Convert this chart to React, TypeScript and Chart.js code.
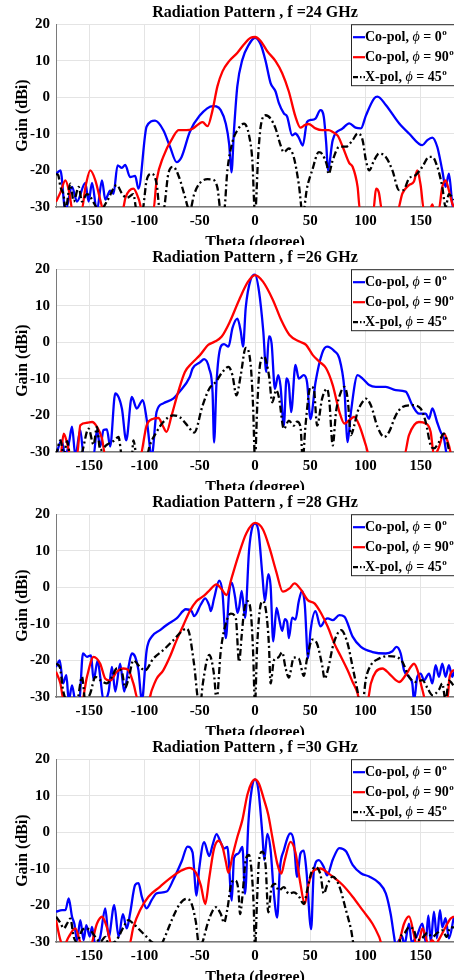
import React, { useEffect, useRef } from 'react';
import { Chart, registerables } from 'chart.js';

Chart.register(...registerables);

const FONT = "'Liberation Serif', 'Times New Roman', serif";

// ---- axis / tick values ----
const X_TICKS = [-150, -100, -50, 0, 50, 100, 150];
const Y_TICKS = [-30, -20, -10, 0, 10, 20];
const X_MIN = -180;
const X_MAX = 180;
const Y_MIN = -30;
const Y_MAX = 20;
const FREQS = [24, 26, 28, 30];

// ---- legend ----
const SERIES_NAMES = ['Co-pol, ', 'Co-pol, ', 'X-pol, '];
const PHI_VALUES = ['0', '90', '45'];
const SERIES_COLORS = ['#0000ff', '#ff0000', '#000000'];

// ---- data: [theta (deg), gain (dBi)] ----
const G24_CO0: number[][] = [[-180,-21],[-176,-20],[-171.5,-31],[-165.5,-24.5],[-161,-28.5],[-153.5,-23.4],[-150.5,-28.5],[-147.4,-23.4],[-143,-31],[-138.4,-22.7],[-135.4,-28],[-131,-25.5],[-128,-26.4],[-124.3,-18.6],[-120.4,-19.3],[-117.4,-18.5],[-113,-21.8],[-108.4,-21.5],[-105.4,-25],[-98,-8],[-90.4,-6.4],[-82.9,-9],[-76.9,-13.5],[-70.9,-17.7],[-66.4,-16.3],[-59,-9.5],[-50,-5],[-38,-2.4],[-35,-2.5],[-31,-3.5],[-26.4,-7.2],[-23.4,-12.7],[-21.3,-20.5],[-19,-9],[-16,3],[-11.4,10.3],[-5.4,14.5],[0,16.3],[5.1,14.5],[9.6,9.9],[14.1,3.9],[18.6,1.6],[21.6,-1.6],[26.1,-4.4],[29.1,-5.3],[33.6,-10.4],[36.6,-9.9],[39.6,-11],[43.2,-13.2],[47.1,-6.7],[50.2,-6.2],[54.7,-5.8],[59.2,-3.5],[62.2,-5.3],[64.5,-13],[66,-20],[70.3,-11.7],[79.3,-8.5],[85.3,-7.1],[91,-8.3],[95.8,-8.5],[100.3,-5],[107.8,-0.3],[110.8,0.2],[118.3,-2.1],[130.3,-7.1],[139.3,-9.9],[151.4,-13.1],[155.9,-11.7],[160.4,-11],[164.9,-13.6],[169.4,-20],[172.4,-24.5],[175.4,-20.9],[178.4,-29],[180,-31]];
const G24_CO90: number[][] = [[-180,-28.6],[-176,-26],[-171.5,-22.7],[-168,-26],[-165,-31],[-157,-31],[-153,-24],[-149,-20],[-144.4,-22.7],[-140,-28],[-137,-31],[-120,-31],[-117,-27.3],[-110,-25],[-105,-28],[-102,-31],[-92,-31],[-89,-22.7],[-83,-16.3],[-74,-10.8],[-69,-9],[-62,-9],[-56,-8.5],[-50.5,-7.2],[-47.4,-6.8],[-42.9,-7.9],[-38.4,-3.5],[-34,3],[-29.4,7.1],[-23.4,9.9],[-15.9,12.2],[-9.9,14.5],[-3.9,16.3],[0,16.5],[5.1,15.4],[11.1,12.6],[18.6,9.9],[24.6,6.6],[30.6,1.6],[36.6,-5.3],[41.1,-8.3],[45,-7.6],[48.6,-7.3],[54.7,-8.5],[60.7,-9],[66.7,-9],[70.3,-9.5],[74.8,-10.5],[79.3,-13.5],[85.3,-18],[88.3,-19],[92.8,-24.5],[95,-31],[107,-31],[109.5,-25],[112,-26],[115,-31],[128.8,-31],[133.3,-26.3],[139.3,-24],[143.8,-23],[146.8,-20],[149.8,-24],[152.9,-31],[158,-31],[160.4,-29.3],[162,-31],[166,-31],[169.4,-24.5],[172.4,-22.7],[175.4,-25.5],[178.4,-29],[180,-30]];
const G24_X45: number[][] = [[-180,-21],[-178,-21.3],[-176,-24.5],[-173,-27],[-171.5,-31],[-167,-23.6],[-164,-28.5],[-159.5,-24.5],[-156.5,-28.5],[-152,-26.5],[-140,-31],[-134,-28.5],[-125,-24],[-120.4,-26.3],[-116,-27.5],[-110,-26.5],[-107,-31],[-102,-31],[-98,-22.7],[-93.4,-20.9],[-89,-23.6],[-86,-31],[-83,-31],[-78.4,-20.9],[-74,-19],[-68.5,-22],[-64,-26.5],[-59,-31],[-55,-26.5],[-50.5,-23.7],[-43,-22.4],[-38.4,-22.5],[-34,-24.7],[-31,-31],[-28,-31],[-25,-20],[-20.4,-12.2],[-15.9,-9],[-9.9,-7.2],[-5.4,-10.4],[-2.4,-17.3],[0,-32],[3,-15.4],[5.1,-8.1],[9.6,-4.9],[14.1,-5.8],[18.6,-8.5],[23.1,-13.1],[26.1,-15],[30.6,-14],[35.1,-16.4],[39.6,-23.7],[43.2,-32],[47.1,-24.7],[51.7,-20],[57.7,-15],[60.7,-15.5],[65.2,-18.8],[66.5,-21],[70.3,-17.2],[76.3,-13.5],[82.3,-13.5],[88.3,-11.7],[92.8,-9.9],[97.3,-11.7],[100.3,-17.2],[103.3,-20],[107.8,-17.2],[112.3,-15.4],[118.3,-16.3],[124.3,-20],[130.3,-25.4],[134,-25.4],[139.3,-22.2],[145.3,-21.3],[151.4,-19],[157.4,-16.3],[160.4,-16.3],[164.9,-19],[169.4,-24.5],[172.4,-30],[175.4,-26.5],[180,-28]];

const G26_CO0: number[][] = [[-180,-31],[-175,-26.8],[-171.5,-31],[-168,-27],[-165.5,-23.1],[-162.5,-31],[-158,-24],[-155,-31],[-146,-31],[-143,-24],[-140,-28.5],[-137,-24],[-134,-23.8],[-131,-28.5],[-126.4,-14],[-120.4,-18.1],[-116.5,-26.8],[-111.4,-14.9],[-107,-18.1],[-101.5,-15.8],[-98,-21],[-93.4,-31],[-89,-19],[-83,-16.7],[-74,-15.4],[-68.5,-13.6],[-59,-9.5],[-56.5,-7.2],[-49.8,-5.5],[-46,-4.6],[-41.4,-7.2],[-38.4,-13.6],[-37,-27.4],[-34.8,-11],[-31,-1.2],[-28,-0.5],[-24,-1.2],[-20.4,3.9],[-15.9,6.5],[-12.9,3],[-10.8,-1.2],[-8.4,9.4],[-3.9,17.2],[0,18.5],[3.6,14],[7.5,3],[10.2,-8.1],[12.6,1.6],[15,-0.3],[18,-12.7],[21,-9],[23.1,-12],[26.1,-22.8],[28.5,-9.9],[30.6,-11.5],[32.7,-19.1],[36.6,-6.2],[39.6,-9.9],[44.1,-9],[47.1,-11],[50.2,-21],[54.7,-11],[60.7,-3],[65.2,-1.2],[71.8,-2.4],[76.3,-4.4],[80.8,-12.6],[83.8,-27.3],[86.8,-19],[92.8,-9],[97.3,-9.9],[103.3,-11.7],[109.3,-12.2],[118.3,-12.2],[127.3,-13.1],[136.3,-13.5],[142.3,-17.2],[148.3,-19.5],[154.4,-19.5],[157.4,-20.9],[160.4,-18.1],[164.9,-22],[167.9,-24.5],[170.9,-26.3],[173.9,-31],[180,-31]];
const G26_CO90: number[][] = [[-180,-31],[-176,-31],[-173,-25],[-170,-27.5],[-167,-31],[-161,-31],[-158,-22.7],[-152,-22],[-147.4,-21.8],[-143,-23.1],[-138.4,-26.3],[-135.4,-31],[-104,-31],[-98,-22.7],[-92,-20.9],[-87.4,-20.7],[-83,-23.1],[-80,-24.5],[-75.4,-20],[-69.4,-13.5],[-63.4,-8.1],[-57.4,-5.8],[-49.8,-3.5],[-42.3,-0.7],[-36.3,0.2],[-30.3,1.5],[-22.8,5.6],[-13.8,12],[-6.3,16.6],[0,18.4],[7.2,16.6],[16.2,11.6],[23.7,6.1],[31.2,2],[40.2,0.2],[46.2,-0.7],[52.3,-3.5],[58.3,-5.3],[64.3,-7.1],[70.3,-11.7],[76.3,-19],[80.8,-22.2],[85.3,-21.3],[89.8,-20.4],[94.3,-22.7],[100.3,-28.2],[103.3,-31],[134.8,-31],[139.3,-25.4],[148.3,-21.8],[154.4,-22.2],[158.9,-24.5],[161.9,-31],[166,-29],[170.9,-25],[175.4,-28.2],[178,-31],[180,-31]];
const G26_X45: number[][] = [[-180,-31],[-176,-26.8],[-173,-31],[-170,-27],[-167,-31],[-158,-31],[-150.5,-23.6],[-146,-28],[-143,-23.1],[-140,-29.5],[-134,-28],[-128,-27],[-123.4,-25.9],[-120.4,-31],[-111.4,-31],[-110,-26.8],[-107,-31],[-98,-31],[-95,-28],[-89,-24.5],[-83,-21.8],[-74,-20],[-68,-20.5],[-61,-22.8],[-55,-24.7],[-47.4,-17.3],[-41.4,-12.7],[-35.4,-10.8],[-29.4,-8.1],[-24,-6.7],[-20.4,-9],[-16.8,-14.5],[-12.9,-9],[-8.4,-1.5],[-3.9,-6.2],[-1.8,-17],[0,-32],[2.1,-17],[4.5,-6.2],[8.1,-3.9],[12.6,-9],[15.6,-16.4],[19.2,-13.1],[21.6,-15],[26.1,-23.7],[30.6,-21.4],[35.1,-22.8],[38.1,-21.7],[41.1,-23],[43.2,-32],[45.6,-23],[50.2,-12.2],[53.2,-12.7],[56.2,-22.8],[60.7,-15.4],[65.2,-12.7],[67.3,-16.3],[70.3,-28.2],[73.3,-19],[77.8,-13.5],[80.8,-12.2],[83.8,-15.4],[86.8,-25.4],[89.8,-22.7],[92.8,-19],[97.3,-16.3],[100.3,-15.4],[104.8,-17.2],[110.8,-23.1],[116.8,-25.9],[121.3,-24.5],[127.3,-20],[133.3,-17.7],[142.3,-17.2],[149.8,-18.1],[154.4,-21.8],[158.9,-28.2],[161.9,-29],[166,-27.5],[170.9,-25],[174,-27.5],[177,-31],[180,-31]];

const G28_CO0: number[][] = [[-180,-21.8],[-176.6,-20],[-173.6,-26.3],[-170.6,-24],[-168.5,-31],[-165.5,-26.8],[-162.5,-31],[-159,-31],[-155.6,-18.1],[-152,-19],[-148.3,-18.6],[-146,-25.4],[-142.3,-20],[-140,-24.5],[-137,-31],[-132.4,-28.5],[-129.4,-21.8],[-126.4,-28.5],[-122,-20.9],[-118.3,-28.5],[-114.4,-21.8],[-111.4,-18.1],[-108.4,-19],[-105.4,-22.7],[-102.4,-31],[-98,-17.2],[-93.4,-13.5],[-85.9,-11.7],[-79.9,-10.3],[-70.9,-8.5],[-62.5,-6],[-57.4,-6.5],[-55,-7.9],[-49,-4.7],[-45,-3],[-41.4,-5],[-40,-6.5],[-37,-3],[-32.4,1.8],[-29.4,-1.5],[-26.4,-13.9],[-23.4,-1.5],[-21,1.3],[-18,-2.7],[-15.9,-7],[-14.4,-5.6],[-12,-1],[-9,-8.4],[-5.4,10],[-2.4,16.5],[0,17.4],[3,15.6],[6.6,3.6],[9,-3.8],[12,3.6],[14.1,0.4],[16.5,-14.8],[19.5,-5.6],[21.6,-8.3],[24.6,-11.9],[27,-8.7],[29.1,-9.5],[30.6,-13.9],[33.6,-8.3],[36.6,-8.8],[39.6,-3.8],[42.6,-1],[45,-4.6],[48,-19.4],[50.2,-12],[54.7,-6.5],[59.2,-10.7],[63.7,-8.8],[65.8,-8.5],[70.3,-9],[76.3,-7.6],[80.8,-8],[88.3,-13.5],[95.8,-16.3],[106.3,-17.7],[118.3,-18.1],[124.3,-17.5],[127.9,-16.3],[131.8,-18.1],[134.8,-22.7],[139.3,-24.5],[142.3,-26.3],[143.8,-31],[146.8,-24.5],[149.8,-23.6],[152.9,-25.4],[157.4,-23.6],[160.4,-26.3],[163.4,-21.3],[166.4,-24.5],[169.4,-20.9],[172.4,-24.5],[175.4,-21.3],[178.4,-24.5],[180,-23]];
const G28_CO90: number[][] = [[-180,-23.1],[-176,-26.3],[-173,-31],[-156.6,-31],[-152,-24.5],[-146,-19],[-140,-20.9],[-135.4,-25],[-131,-25.5],[-125,-23.1],[-119,-22.2],[-114.4,-22.7],[-110,-26.3],[-105.4,-31],[-96.4,-31],[-93.4,-28.2],[-89,-25],[-83,-22.7],[-77,-19],[-71,-14.5],[-65,-10.5],[-59,-6.5],[-53,-3.8],[-47,-2.5],[-42.3,-1.2],[-34.8,0.8],[-30.3,-0.5],[-25.8,-2.1],[-21.3,2.4],[-15.3,8.4],[-7.8,14.8],[0,17.6],[7.2,15.8],[13.2,10.7],[19.2,4.3],[25.2,-1.2],[31.2,-0.3],[35.7,1.1],[41.7,-0.7],[47.7,-3.5],[53.8,-4.4],[59.8,-7.1],[65.8,-10.8],[71.8,-15.4],[77.8,-19],[83.8,-22.7],[88.3,-25.9],[92.8,-29],[94.3,-31],[101.8,-31],[104.8,-26.3],[109.3,-23.1],[115.3,-22.2],[121.3,-23.6],[127.3,-25.4],[130.3,-25.9],[136.3,-24],[140.8,-21.8],[143.8,-20.9],[146.8,-22.5],[151.4,-28],[154.4,-31],[173.9,-31],[176,-24.5],[180,-22.5]];
const G28_X45: number[][] = [[-180,-20.9],[-176.6,-21.8],[-173.6,-28.2],[-170,-31],[-161,-31],[-156.5,-24.5],[-153.5,-31],[-149,-29],[-144.4,-24.5],[-140,-25.4],[-134,-26.3],[-129.4,-24.5],[-125,-22.2],[-120.4,-23.1],[-117.4,-27.5],[-114.4,-25],[-110,-20],[-104,-21.8],[-99.4,-22.7],[-92,-19.5],[-83,-17.2],[-74,-14.5],[-65,-11.7],[-62,-11.3],[-59.5,-12.5],[-55,-21.3],[-51,-31],[-49,-31],[-47.5,-27],[-41.4,-18.5],[-37,-24],[-34.8,-31],[-31,-17.5],[-26.4,-9.9],[-21.9,-7.2],[-17.4,-8.4],[-14.4,-20.4],[-12,-13],[-9.9,-6.5],[-6.9,-3.8],[-3.9,-6.5],[-1.8,-17],[0,-32],[1.8,-17],[4.2,-6.5],[7.2,-3.8],[10.2,-7],[12.6,-15.8],[14.1,-26.3],[17.1,-20],[21,-19.2],[24.6,-17.8],[27.6,-22],[30.6,-24.7],[35.1,-19.2],[39.6,-19.5],[44.1,-24.2],[47.1,-19.5],[51.7,-14.3],[56.2,-15.5],[60.7,-21.3],[63,-25],[65.8,-22.7],[71,-15.5],[77.8,-11.7],[83.8,-15.4],[88.3,-21.8],[92.8,-28.5],[94.3,-31],[97.5,-31],[100.3,-25],[104.8,-21.3],[112.3,-19.5],[119.8,-18.8],[127.3,-19],[133.3,-20.4],[139.3,-24.5],[145.3,-25.9],[151.4,-25.4],[155.9,-27.5],[160.4,-29.5],[166.4,-28],[169.4,-26.3],[172.4,-31],[175.4,-25.5],[180,-27]];

const G30_CO0: number[][] = [[-180,-21.7],[-174.5,-21.3],[-171.5,-21.3],[-168.5,-18.1],[-165.5,-23.1],[-163.4,-25],[-161,-29.5],[-158,-24],[-155,-29.5],[-152.6,-25.4],[-149.5,-28.5],[-147.4,-25.9],[-144.4,-31],[-140,-28.6],[-135.4,-20.8],[-132.4,-28.6],[-127.3,-19.9],[-123.4,-28.6],[-119.5,-22.4],[-116,-26.3],[-113,-22.2],[-108.4,-14.4],[-105.4,-13.9],[-102.4,-17.6],[-98,-20.8],[-93.4,-18.5],[-89,-16.7],[-79.9,-16.2],[-73.9,-13],[-66.4,-8],[-61,-3.9],[-56.5,-5.5],[-52.9,-17.3],[-50.5,-10],[-46,-2.7],[-41.4,-6.5],[-38.4,-3.5],[-34.8,-0.5],[-31,-2.8],[-28,-4.4],[-25,-4],[-21,-18.7],[-19,-7],[-15,-5.8],[-11.4,-4],[-9,-16.8],[-6,2.5],[-3,11.7],[0,14.5],[3,11.7],[6.6,-0.3],[8.4,-7.6],[11.1,-0.4],[14.1,-4.8],[17.1,-16.8],[20.1,-23.3],[22.5,-10],[26.1,-4.9],[32.1,-0.3],[35.1,-2.5],[38.1,-12.2],[41.1,-5.8],[44.1,-5],[46.5,-10.5],[50.8,-26.5],[53.2,-10.5],[57.7,-7.6],[62.2,-9.5],[65.2,-11.8],[70.3,-7.5],[76.3,-4.3],[82.3,-5.2],[88.3,-8.9],[95.8,-11.2],[103.3,-12.1],[112.3,-13.9],[118.3,-16.7],[122.8,-22.5],[125.8,-28.5],[127.3,-31],[130.3,-29.5],[133.3,-28.6],[135,-31],[139.3,-25],[141.7,-30],[146,-28.6],[151.4,-25],[154.4,-30],[156.8,-22.7],[159,-30],[161.9,-21.7],[164.5,-29],[167.3,-21.3],[169.5,-26],[172.4,-23.5],[175.4,-29],[180,-23]];
const G30_CO90: number[][] = [[-180,-24],[-176,-29.5],[-173,-31],[-168.5,-28.6],[-162.5,-26.3],[-158,-30],[-155,-31],[-149,-31],[-143,-25],[-138.4,-23.1],[-134,-25.9],[-129.4,-31],[-114,-31],[-110,-25.9],[-104,-21.3],[-96.4,-17.6],[-86,-14.9],[-77,-12.6],[-68,-10.7],[-59.5,-9.7],[-53.5,-11],[-49,-14.5],[-45,-19.6],[-41.4,-12.5],[-37,-4.4],[-33,-2.3],[-29.4,-4],[-26.4,-8],[-24,-11.1],[-20.4,-6.5],[-15.9,-1.2],[-11.4,3.4],[-6.9,10.3],[-3,13.6],[0,14.5],[3.6,13.3],[8.1,9],[12,4.8],[15.6,-1.2],[20.1,-8.5],[23.7,-11.3],[27,-7.5],[32.1,-2.6],[36.6,-5.5],[41.1,-14.1],[45,-19.6],[48.6,-14],[53.2,-10.4],[59.2,-9.9],[66.7,-11.3],[70.3,-12.1],[79.3,-14.4],[88.3,-17.6],[97.3,-21.3],[106.3,-25],[112.3,-28.6],[115.3,-31],[125.8,-31],[130.3,-30],[134.8,-25],[139.3,-23],[143.8,-28],[146,-31],[149,-29],[151.4,-26.3],[154.4,-28.6],[157,-31],[160,-29.5],[163.4,-30.5],[166,-29.5],[172.4,-25.9],[176.9,-23.6],[180,-23]];
const G30_X45: number[][] = [[-180,-23.1],[-176,-24.8],[-173,-26.3],[-170,-25],[-167,-23.6],[-164,-28.6],[-161,-30],[-156.5,-26.8],[-153.5,-26.3],[-149,-26.8],[-144.4,-28.6],[-140,-30],[-135.4,-28.6],[-132.4,-30.5],[-127,-30],[-123.4,-28.6],[-119,-25.9],[-114.4,-24],[-110,-25],[-104,-26.8],[-98,-28.6],[-93.4,-30],[-86,-31],[-82,-29],[-78.4,-26.3],[-74,-23.1],[-68,-19.6],[-62,-18.2],[-57.4,-19.5],[-53.5,-24.5],[-50.5,-31],[-47.5,-30],[-43,-25.1],[-38.4,-21.5],[-35.4,-20.5],[-31,-22.3],[-28,-24.7],[-25,-21],[-21,-13.6],[-18,-13.2],[-15,-15.9],[-13.5,-22.4],[-11.4,-17.5],[-8.4,-7.6],[-5.4,-6.2],[-3,-11],[-1.2,-20],[0,-32],[1.8,-19],[3.6,-7.8],[6.6,-5.3],[9.6,-9.2],[12,-21.9],[15,-15],[18,-14.1],[21.6,-15.9],[26.1,-15],[30.6,-16.8],[35.1,-16.4],[39.6,-17.5],[44.1,-19.6],[47.1,-16],[51.1,-10.8],[54.7,-9.5],[59.2,-11.5],[62.2,-16.8],[65.2,-14.5],[70.3,-12.1],[76.3,-14.8],[82.3,-21.3],[86.8,-26.5],[89.8,-31],[130,-31],[131.8,-28.6],[135.5,-27.5],[139.3,-25.9],[143.8,-26.8],[146.8,-29.5],[151,-29],[155.9,-27.5],[160.4,-28.6],[164.9,-27.5],[169.4,-26.8],[173.5,-28.6],[176.5,-26],[180,-26]];

const SERIES_BY_FREQ: number[][][][] = [
  [G24_CO0, G24_CO90, G24_X45],
  [G26_CO0, G26_CO90, G26_X45],
  [G28_CO0, G28_CO90, G28_X45],
  [G30_CO0, G30_CO90, G30_X45],
];

const PANEL_STEP = 245;
const CANVAS_W = 454;
const CANVAS_H = 260;

const legendPlugin = {
  id: 'matlabLegend',
  afterDraw(chart: any) {
    const { ctx, chartArea } = chart;
    const boxLeft = chartArea.right - 103;
    const boxTop = chartArea.top;
    const boxH = 61;
    ctx.save();
    ctx.fillStyle = '#ffffff';
    ctx.fillRect(boxLeft, boxTop, 120, boxH);
    ctx.strokeStyle = '#262626';
    ctx.lineWidth = 1;
    ctx.strokeRect(boxLeft + 0.5, boxTop + 0.5, 120, boxH);
    for (let i = 0; i < SERIES_NAMES.length; i++) {
      const y = boxTop + 13 + i * 20;
      ctx.strokeStyle = SERIES_COLORS[i];
      ctx.lineWidth = 2.2;
      ctx.setLineDash(i === 2 ? [5, 2, 1.5, 2] : []);
      ctx.beginPath();
      ctx.moveTo(boxLeft + 2, y);
      ctx.lineTo(boxLeft + 14, y);
      ctx.stroke();
      ctx.setLineDash([]);
      ctx.fillStyle = '#000';
      ctx.textBaseline = 'middle';
      ctx.textAlign = 'left';
      let x = boxLeft + 14;
      ctx.font = `bold 14px ${FONT}`;
      ctx.fillText(SERIES_NAMES[i], x, y);
      x += ctx.measureText(SERIES_NAMES[i]).width;
      ctx.font = `italic 14px ${FONT}`;
      ctx.fillText('\u03D5', x, y);
      x += ctx.measureText('\u03D5').width;
      ctx.font = `bold 14px ${FONT}`;
      const eq = ' = ' + PHI_VALUES[i];
      ctx.fillText(eq, x, y);
      x += ctx.measureText(eq).width;
      ctx.font = `bold 9px ${FONT}`;
      ctx.fillText('o', x + 0.5, y - 5);
    }
    ctx.restore();
  },
};

function makeConfig(panel: number): any {
  const series = SERIES_BY_FREQ[panel];
  const datasets = series.map((pts, i) => ({
    label: SERIES_NAMES[i] + '\u03D5 = ' + PHI_VALUES[i] + '\u00B0',
    data: pts.map(([x, y]) => ({ x, y })),
    borderColor: SERIES_COLORS[i],
    backgroundColor: SERIES_COLORS[i],
    borderWidth: 2.3,
    borderDash: i === 2 ? [7, 3, 2, 3] : [],
    pointRadius: 0,
    fill: false,
    cubicInterpolationMode: 'monotone',
    order: 3 - i,
  }));
  const tickFont = { family: FONT, size: 15, weight: 'bold' };
  const titleFont = { family: FONT, size: 16, weight: 'bold' };
  return {
    type: 'line',
    data: { datasets },
    plugins: [legendPlugin],
    options: {
      animation: false,
      responsive: false,
      maintainAspectRatio: false,
      devicePixelRatio: 1,
      layout: { padding: 0 },
      plugins: {
        legend: { display: false },
        tooltip: { enabled: false },
        title: {
          display: true,
          fullSize: false,
          text: `Radiation Pattern , f =${FREQS[panel]} GHz`,
          color: '#000',
          font: titleFont,
          padding: { top: 3, bottom: 2 },
        },
      },
      scales: {
        x: {
          type: 'linear',
          min: X_MIN,
          max: X_MAX,
          afterBuildTicks: (s: any) => { s.ticks = X_TICKS.map((v) => ({ value: v })); },
          afterFit: (s: any) => { s.height = CANVAS_H - 207; },
          grid: { color: '#e4e4e4', drawTicks: false, lineWidth: 1 },
          border: { color: '#7a7a7a', width: 1.5 },
          ticks: { color: '#000', font: tickFont, padding: 5, maxRotation: 0, autoSkip: false },
          title: { display: true, text: 'Theta (degree)', color: '#000', font: titleFont, padding: { top: 0, bottom: 8 } },
        },
        y: {
          type: 'linear',
          min: Y_MIN,
          max: Y_MAX,
          afterBuildTicks: (s: any) => { s.ticks = Y_TICKS.map((v) => ({ value: v })); },
          afterFit: (s: any) => { s.width = 56; },
          grid: { color: '#e4e4e4', drawTicks: false, lineWidth: 1 },
          border: { color: '#7a7a7a', width: 1 },
          ticks: { color: '#000', font: tickFont, padding: 6, autoSkip: false },
          title: { display: true, text: 'Gain (dBi)', color: '#000', font: titleFont, padding: { top: 13, bottom: 0 } },
        },
      },
    },
  };
}

function Panel({ index }: { index: number }) {
  const ref = useRef<HTMLCanvasElement | null>(null);
  useEffect(() => {
    if (!ref.current) return;
    const chart = new Chart(ref.current, makeConfig(index));
    return () => chart.destroy();
  }, [index]);
  return (
    <canvas
      ref={ref}
      width={CANVAS_W}
      height={CANVAS_H}
      style={{
        position: 'absolute',
        left: 0,
        top: index * PANEL_STEP,
        width: CANVAS_W,
        height: CANVAS_H,
        background: '#ffffff',
        zIndex: index + 1,
        display: 'block',
      }}
    />
  );
}

export default function App() {
  return (
    <div
      style={{
        position: 'absolute',
        left: 0,
        top: 0,
        width: CANVAS_W,
        height: 980,
        overflow: 'hidden',
        background: '#ffffff',
      }}
    >
      {FREQS.map((_, i) => (
        <Panel key={i} index={i} />
      ))}
    </div>
  );
}
